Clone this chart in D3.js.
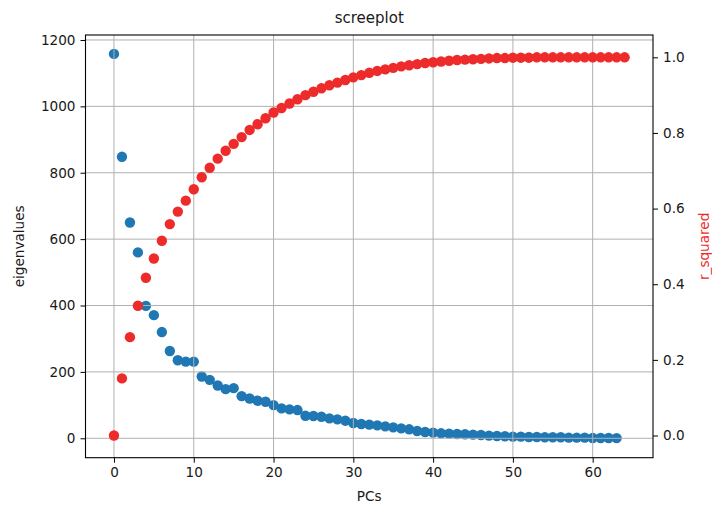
<!DOCTYPE html>
<html>
<head>
<meta charset="utf-8">
<script src="https://cdn.jsdelivr.net/npm/d3@7"></script>
<style>
  html, body { margin: 0; padding: 0; background: #fff; }
  svg { display: block; font-family: "DejaVu Sans", sans-serif; }
</style>
</head>
<body>
<svg id="chart" width="712" height="507"></svg>
<script>
// Eigenvalue of each principal component (PC 0..63)
const eigenvalues = [
  1158, 848, 650, 560, 399, 371, 320, 263, 235, 231,
  231, 186, 176, 159, 148, 151, 127, 120, 113, 110,
  100, 90, 87, 85, 68, 67, 65, 60, 57, 53,
  46, 43, 41, 39, 36, 33, 30, 27, 22, 19,
  17, 15, 14, 13, 12, 11, 10, 8, 7, 6,
  5, 5, 4, 4, 3, 3, 3, 2, 2, 2,
  1, 1, 1, 0.5
];

// Cumulative explained variance (PC 0..64)
const rSquared = [
  0.000, 0.151, 0.260, 0.343, 0.417, 0.468, 0.515, 0.559, 0.592, 0.621,
  0.651, 0.683, 0.708, 0.732, 0.753, 0.771, 0.789, 0.808, 0.823, 0.839,
  0.854, 0.866, 0.878, 0.889, 0.900, 0.909, 0.918, 0.926, 0.933, 0.940,
  0.947, 0.953, 0.959, 0.964, 0.968, 0.972, 0.976, 0.979, 0.982, 0.985,
  0.987, 0.989, 0.991, 0.993, 0.994, 0.995, 0.996, 0.997, 0.998, 0.998,
  0.999, 0.999, 0.999, 1.000, 1.000, 1.000, 1.000, 1.000, 1.000, 1.000,
  1.000, 1.000, 1.000, 1.000, 1.000
];

const xTicks = [0, 10, 20, 30, 40, 50, 60];
const leftTicks = [0, 200, 400, 600, 800, 1000, 1200];
const rightTicks = [0.0, 0.2, 0.4, 0.6, 0.8, 1.0];

const chartTitle = "screeplot";
const xLabel = "PCs";
const leftLabel = "eigenvalues";
const rightLabel = "r_squared";

const blue = "#1f77b4";
const red = "#ee2b2b";

const plot = { left: 85.5, right: 653, top: 35, bottom: 457.7 };

const svg = d3.select("#chart");

const x = d3.scaleLinear().domain([-3.57, 67.56]).range([plot.left, plot.right]);
const yL = d3.scaleLinear().domain([-58.5, 1215]).range([plot.bottom, plot.top]);
const yR = d3.scaleLinear().domain([-0.0587, 1.059]).range([plot.bottom, plot.top]);

const fontSize = 13.6;

// eigenvalue markers (under the grid)
svg.append("g").selectAll("circle")
  .data(eigenvalues)
  .join("circle")
  .attr("cx", (d, i) => x(i))
  .attr("cy", d => yL(d))
  .attr("r", 5.2)
  .attr("fill", blue);

// grid
const grid = svg.append("g").attr("stroke", "#b0b0b0").attr("stroke-width", 1);
grid.selectAll("line.v").data(xTicks).join("line")
  .attr("class", "v")
  .attr("x1", d => x(d)).attr("x2", d => x(d))
  .attr("y1", plot.top).attr("y2", plot.bottom);
grid.selectAll("line.h").data(leftTicks).join("line")
  .attr("class", "h")
  .attr("x1", plot.left).attr("x2", plot.right)
  .attr("y1", d => yL(d)).attr("y2", d => yL(d));

// cumulative markers on the twin axis
svg.append("g").selectAll("circle")
  .data(rSquared)
  .join("circle")
  .attr("cx", (d, i) => x(i))
  .attr("cy", d => yR(d))
  .attr("r", 5.2)
  .attr("fill", red);

// axes
function styleAxis(g) {
  g.select(".domain").remove();
  g.selectAll(".tick line").attr("stroke", "#000").attr("stroke-width", 1);
  g.selectAll(".tick text")
    .attr("fill", "#1a1a1a")
    .attr("font-size", fontSize)
    .attr("font-family", "DejaVu Sans, sans-serif");
}

svg.append("g")
  .attr("transform", `translate(0,${plot.bottom})`)
  .call(d3.axisBottom(x).tickValues(xTicks).tickFormat(d3.format("d")).tickSizeOuter(0).tickSize(5).tickPadding(5))
  .call(styleAxis);

svg.append("g")
  .attr("transform", `translate(${plot.left},0)`)
  .call(d3.axisLeft(yL).tickValues(leftTicks).tickFormat(d3.format("d")).tickSizeOuter(0).tickSize(5).tickPadding(5))
  .call(styleAxis);

svg.append("g")
  .attr("transform", `translate(${plot.right},0)`)
  .call(d3.axisRight(yR).tickValues(rightTicks).tickFormat(d3.format(".1f")).tickSizeOuter(0).tickSize(5).tickPadding(5))
  .call(styleAxis);

// frame
svg.append("rect")
  .attr("x", plot.left).attr("y", plot.top)
  .attr("width", plot.right - plot.left)
  .attr("height", plot.bottom - plot.top)
  .attr("fill", "none")
  .attr("stroke", "#000")
  .attr("stroke-width", 1.1);

// titles and labels
svg.append("text")
  .attr("x", (plot.left + plot.right) / 2)
  .attr("y", 18)
  .attr("text-anchor", "middle")
  .attr("dominant-baseline", "central")
  .attr("font-size", 15)
  .attr("fill", "#1a1a1a")
  .text(chartTitle);

svg.append("text")
  .attr("x", (plot.left + plot.right) / 2)
  .attr("y", 496)
  .attr("text-anchor", "middle")
  .attr("dominant-baseline", "central")
  .attr("font-size", fontSize)
  .attr("fill", "#1a1a1a")
  .text(xLabel);

svg.append("text")
  .attr("transform", `translate(19,${(plot.top + plot.bottom) / 2}) rotate(-90)`)
  .attr("text-anchor", "middle")
  .attr("dominant-baseline", "central")
  .attr("font-size", fontSize)
  .attr("fill", "#1a1a1a")
  .text(leftLabel);

svg.append("text")
  .attr("transform", `translate(704,${(plot.top + plot.bottom) / 2}) rotate(-90)`)
  .attr("text-anchor", "middle")
  .attr("dominant-baseline", "central")
  .attr("font-size", fontSize)
  .attr("fill", red)
  .text(rightLabel);
</script>
</body>
</html>
